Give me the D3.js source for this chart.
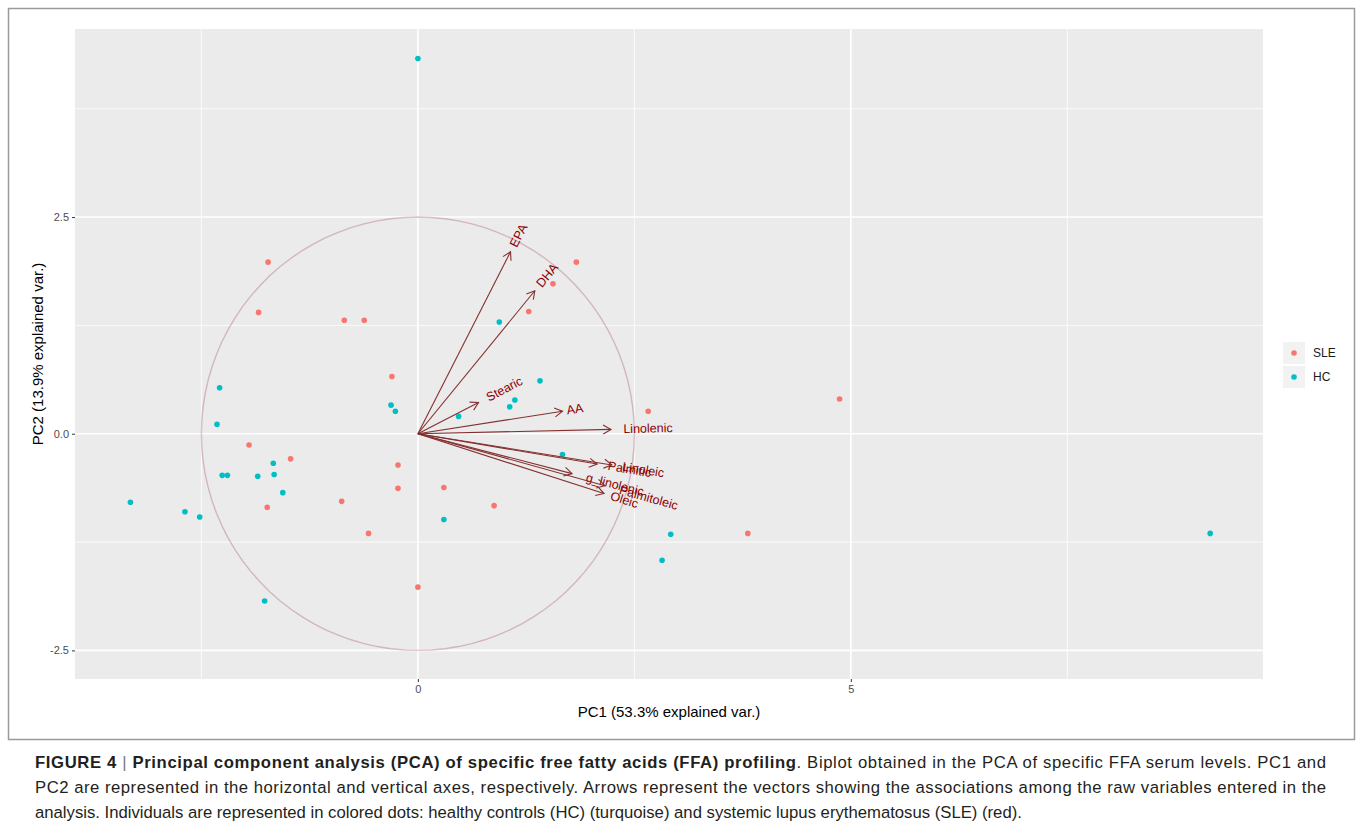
<!DOCTYPE html>
<html>
<head>
<meta charset="utf-8">
<script src="https://cdn.jsdelivr.net/npm/d3@7"></script>
<style>
	body { margin: 0; background: #fff; }
	text { font-family: "Liberation Sans", Arial, sans-serif; }
</style>
</head>
<body>
<svg id="chart" width="1358" height="835"></svg>
<script>
// individuals (PC1, PC2)
var slePC1 = [-1.73, -1.84, -0.85, -0.62, -0.30, -1.95, -1.47, -0.23, -0.23, -0.88, -1.74, -0.57, 0.00, 0.30, 0.88, 1.28, 1.56, 1.83, 2.66, 3.81, 4.87];
var slePC2 = [1.98, 1.40, 1.31, 1.31, 0.66, -0.13, -0.29, -0.36, -0.63, -0.78, -0.85, -1.15, -1.77, -0.62, -0.83, 1.41, 1.73, 1.98, 0.26, -1.15, 0.40];
var hcPC1 = [0.00, 0.94, 1.41, 1.12, 1.06, 0.47, 1.67, 0.30, 2.92, 2.82, 9.15, -2.29, -2.32, -0.31, -0.26, -1.67, -2.26, -2.20, -1.85, -1.66, -1.56, -3.32, -2.69, -2.52, -1.77];
var hcPC2 = [4.33, 1.29, 0.61, 0.39, 0.31, 0.20, -0.24, -0.99, -1.16, -1.46, -1.15, 0.53, 0.11, 0.33, 0.26, -0.34, -0.48, -0.48, -0.49, -0.47, -0.68, -0.79, -0.90, -0.96, -1.93];

// variable loadings (arrows)
var varNames = ["EPA", "DHA", "Stearic", "AA", "Linolenic", "Palmitic", "Linoleic", "g_linolenic", "Palmitoleic", "Oleic"];
var varPC1 = [1.07, 1.35, 0.70, 1.67, 2.23, 2.07, 2.24, 1.78, 2.16, 2.15];
var varPC2 = [2.10, 1.65, 0.36, 0.26, 0.05, -0.35, -0.36, -0.46, -0.60, -0.69];

var groups = ["SLE", "HC"];
var groupColors = ["#F8766D", "#00BFC4"];

var xMajor = [0, 5];
var xMinor = [-2.5, 2.5, 7.5];
var yMajor = [-2.5, 0, 2.5];
var yMinor = [-1.25, 1.25, 3.75];

var captionLines = [
	"PC2 are represented in the horizontal and vertical axes, respectively. Arrows represent the vectors showing the associations among the raw variables entered in the",
	"analysis. Individuals are represented in colored dots: healthy controls (HC) (turquoise) and systemic lupus erythematosus (SLE) (red)."
];

var svg = d3.select("#chart");

// figure frame
svg.append("rect")
	.attr("x", 8.5).attr("y", 8.5)
	.attr("width", 1346).attr("height", 731)
	.attr("fill", "none")
	.attr("stroke", "#9a9a9a")
	.attr("stroke-width", 1.5);

var pLeft = 75, pRight = 1263, pTop = 29, pBottom = 679;

var x = d3.scaleLinear().domain([-3.96, 9.76]).range([pLeft, pRight]);
var y = d3.scaleLinear().domain([-2.83, 4.67]).range([pBottom, pTop]);

svg.append("rect")
	.attr("x", pLeft).attr("y", pTop)
	.attr("width", pRight - pLeft).attr("height", pBottom - pTop)
	.attr("fill", "#EBEBEB");

var grid = svg.append("g");
grid.selectAll(".xmin").data(xMinor).enter().append("line")
	.attr("x1", d => x(d)).attr("x2", d => x(d))
	.attr("y1", pTop).attr("y2", pBottom)
	.attr("stroke", "#fff").attr("stroke-width", 0.8);
grid.selectAll(".ymin").data(yMinor).enter().append("line")
	.attr("y1", d => y(d)).attr("y2", d => y(d))
	.attr("x1", pLeft).attr("x2", pRight)
	.attr("stroke", "#fff").attr("stroke-width", 0.8);
grid.selectAll(".xmaj").data(xMajor).enter().append("line")
	.attr("x1", d => x(d)).attr("x2", d => x(d))
	.attr("y1", pTop).attr("y2", pBottom)
	.attr("stroke", "#fff").attr("stroke-width", 1.6);
grid.selectAll(".ymaj").data(yMajor).enter().append("line")
	.attr("y1", d => y(d)).attr("y2", d => y(d))
	.attr("x1", pLeft).attr("x2", pRight)
	.attr("stroke", "#fff").attr("stroke-width", 1.6);

// axes (ggplot prints a plain hyphen for negatives)
var hyphen = f => (d => d3.format(f)(d).replace("\u2212", "-"));
var xAxis = svg.append("g")
	.attr("transform", "translate(0," + pBottom + ")")
	.call(d3.axisBottom(x).tickValues(xMajor).tickSize(3).tickPadding(3).tickFormat(hyphen("d")));
var yAxis = svg.append("g")
	.attr("transform", "translate(" + pLeft + ",0)")
	.call(d3.axisLeft(y).tickValues(yMajor).tickSize(3).tickPadding(3).tickFormat(hyphen(".1f")));
[xAxis, yAxis].forEach(function (a) {
	a.select(".domain").remove();
	a.selectAll(".tick line").attr("stroke", "#333").attr("stroke-width", 1);
	a.selectAll(".tick text")
		.attr("fill", "#4D4D4D")
		.style("font-size", "11px")
		.style("font-family", "'Liberation Sans', Arial, sans-serif");
});

svg.append("text")
	.attr("x", (pLeft + pRight) / 2).attr("y", 717)
	.attr("text-anchor", "middle")
	.style("font-size", "15px")
	.text("PC1 (53.3% explained var.)");
svg.append("text")
	.attr("transform", "translate(43," + ((pTop + pBottom) / 2) + ") rotate(-90)")
	.attr("text-anchor", "middle")
	.style("font-size", "15px")
	.text("PC2 (13.9% explained var.)");

// correlation circle
var circle = d3.range(0, 101).map(i => [2.5 * Math.cos(i / 100 * 2 * Math.PI), 2.5 * Math.sin(i / 100 * 2 * Math.PI)]);
svg.append("path")
	.datum(circle)
	.attr("d", d3.line().x(d => x(d[0])).y(d => y(d[1])))
	.attr("fill", "none")
	.attr("stroke", "#9B3A45")
	.attr("stroke-opacity", 0.3)
	.attr("stroke-width", 1.4);

// points
var points = [];
slePC1.forEach((v, i) => points.push({ pc1: v, pc2: slePC2[i], g: 0 }));
hcPC1.forEach((v, i) => points.push({ pc1: v, pc2: hcPC2[i], g: 1 }));
svg.append("g").selectAll("circle").data(points).enter().append("circle")
	.attr("cx", d => x(d.pc1)).attr("cy", d => y(d.pc2))
	.attr("r", 2.8)
	.attr("fill", d => groupColors[d.g]);

// arrows
var vars = varNames.map((n, i) => ({ name: n, pc1: varPC1[i], pc2: varPC2[i] }));
var arrows = svg.append("g");
vars.forEach(function (v) {
	var x0 = x(0), y0 = y(0), x1 = x(v.pc1), y1 = y(v.pc2);
	var a = Math.atan2(y1 - y0, x1 - x0);
	var len = 9, spread = Math.PI / 6;
	var head = "M" + (x1 - len * Math.cos(a - spread)) + "," + (y1 - len * Math.sin(a - spread)) +
		"L" + x1 + "," + y1 +
		"L" + (x1 - len * Math.cos(a + spread)) + "," + (y1 - len * Math.sin(a + spread));
	arrows.append("line")
		.attr("x1", x0).attr("y1", y0).attr("x2", x1).attr("y2", y1)
		.attr("stroke", "#843030").attr("stroke-width", 1.1);
	arrows.append("path")
		.attr("d", head)
		.attr("fill", "none")
		.attr("stroke", "#843030").attr("stroke-width", 1.1);
	var t = arrows.append("text")
		.attr("transform", "translate(" + x1 + "," + y1 + ") rotate(" + (a * 180 / Math.PI) + ")")
		.attr("dominant-baseline", "central")
		.attr("fill", "#8B0000")
		.style("font-size", "12.5px")
		.text(v.name);
	t.attr("dx", 0.25 * t.node().getComputedTextLength());
});

// legend
var legend = svg.append("g").attr("transform", "translate(1283,342)");
groups.forEach(function (g, i) {
	var k = legend.append("g").attr("transform", "translate(0," + (i * 24) + ")");
	k.append("rect").attr("width", 22).attr("height", 22).attr("fill", "#F2F2F2");
	k.append("circle").attr("cx", 11).attr("cy", 11).attr("r", 2.8).attr("fill", groupColors[i]);
	k.append("text").attr("x", 30).attr("y", 15).style("font-size", "12px").attr("fill", "#1a1a1a").text(g);
});

// caption
var cap = svg.append("g").style("font-size", "16.7px").attr("fill", "#231f20");
var l1 = cap.append("text").attr("x", 35).attr("y", 768)
	.attr("textLength", 1291).attr("lengthAdjust", "spacing");
l1.append("tspan").style("font-weight", "bold").text("FIGURE 4 ");
l1.append("tspan").attr("fill", "#777").text("|");
l1.append("tspan").style("font-weight", "bold").text(" Principal component analysis (PCA) of specific free fatty acids (FFA) profiling");
l1.append("tspan").text(". Biplot obtained in the PCA of specific FFA serum levels. PC1 and");
cap.append("text").attr("x", 35).attr("y", 793)
	.attr("textLength", 1291).attr("lengthAdjust", "spacing")
	.text(captionLines[0]);
cap.append("text").attr("x", 35).attr("y", 818)
	.text(captionLines[1]);
</script>
</body>
</html>
